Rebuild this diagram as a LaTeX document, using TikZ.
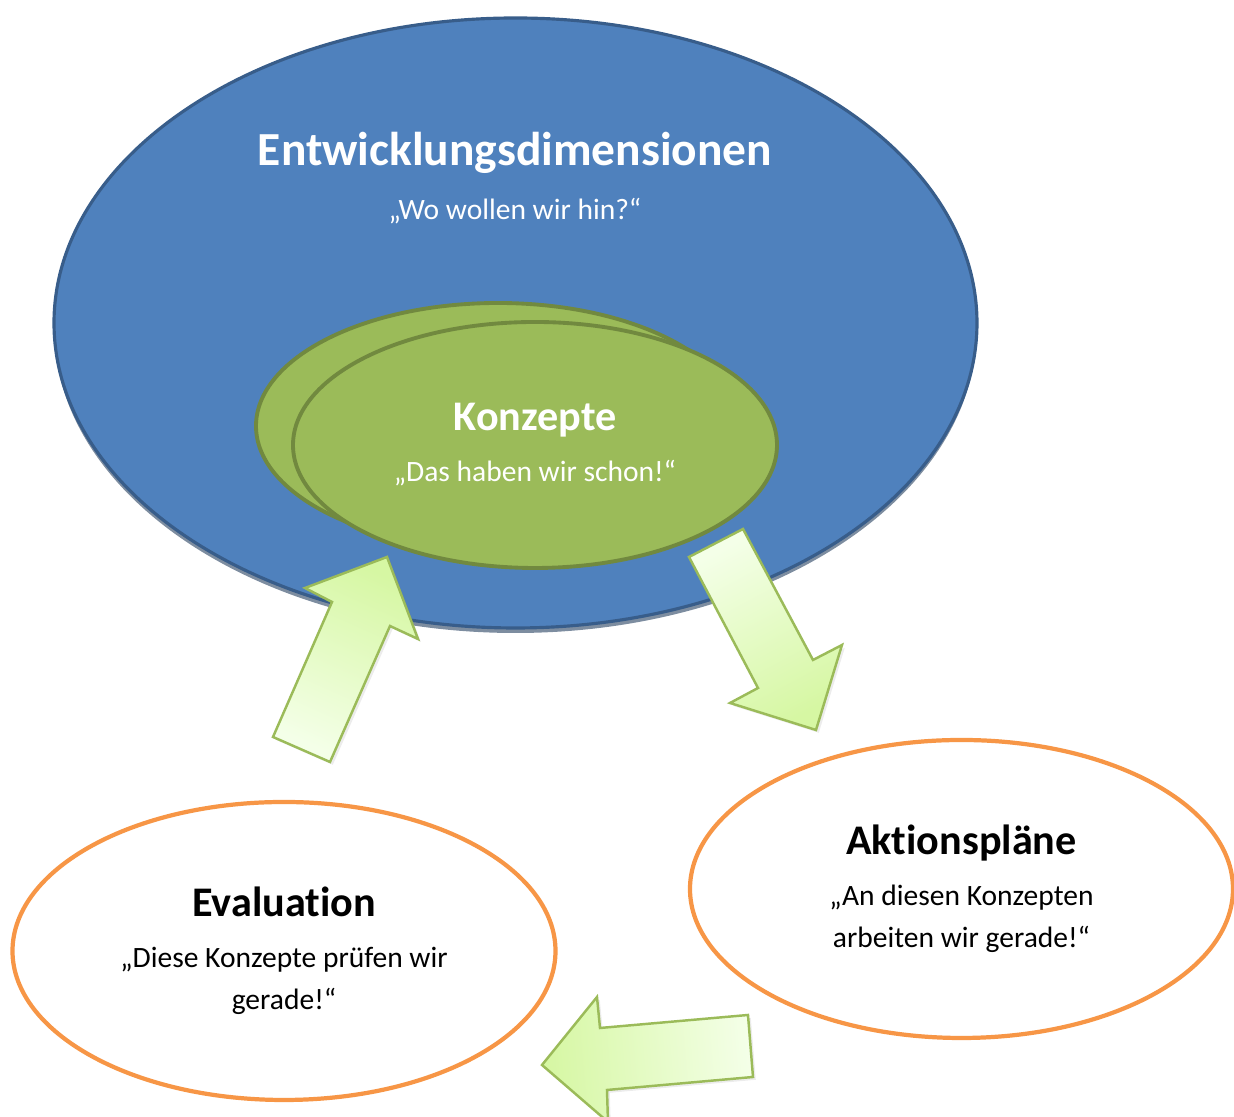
\documentclass[tikz,border=0pt]{standalone}
\usepackage{fontspec}
\setmainfont{Carlito}[Ligatures=NoCommon]
\usepackage{xcolor}
\usepackage{tikz}
\usetikzlibrary{shapes.geometric}
\usetikzlibrary{shadows}
\usetikzlibrary{positioning}
\definecolor{dimblue}{HTML}{4F81BD}
\definecolor{dimblueline}{HTML}{385D8A}
\definecolor{konzgreen}{HTML}{9BBB59}
\definecolor{konzline}{HTML}{71893F}
\definecolor{phaseline}{HTML}{F79646}
\definecolor{arrowtip}{HTML}{D6F7A3}
\definecolor{arrowtail}{HTML}{F4FFE8}
\definecolor{arrowline}{HTML}{9BBB59}
\tikzset{
  dimension/.style={
    ellipse, draw=dimblueline, line width=0.9pt, fill=dimblue,
    minimum width=9.23cm, minimum height=6.1cm, inner sep=0pt,
    drop shadow={shadow xshift=0pt, shadow yshift=-0.05cm, fill=dimblueline!70!black, opacity=0.6},
  },
  concept/.style={
    ellipse, draw=konzline, line width=1.1pt, fill=konzgreen,
    minimum width=4.84cm, minimum height=2.46cm, inner sep=0pt,
    text=white, align=center, font=\fontsize{8.4pt}{12pt}\selectfont,
  },
  phase/.style={
    ellipse, draw=phaseline, line width=1.2pt, fill=white,
    minimum width=5.43cm, minimum height=2.98cm, inner sep=0pt,
    align=center, font=\fontsize{8.4pt}{12pt}\selectfont,
  },
  blockarrow/.style={
    draw=arrowline, line width=0.7pt, line join=miter,
    bottom color=arrowtail, top color=arrowtip,
    drop shadow={shadow xshift=0.8pt, shadow yshift=-0.8pt, opacity=0.15},
  },
}

\begin{document}
\begin{tikzpicture}

  \useasboundingbox (0,0) rectangle (12.34,11.17);

  % Define nodes
  \node[dimension] (dim) at (5.155,7.94) {};
  \node[text=white, font=\fontsize{13.5pt}{16pt}\selectfont\bfseries] (dim_title) at (5.15,9.64) {Entwicklungsdimensionen};
  \node[text=white, font=\fontsize{8.4pt}{12pt}\selectfont, below=0cm of dim_title] (dim_text) {„Wo wollen wir hin?“};

  \node[concept] (konz_back) at (4.98,6.91) {};
  \node[concept] (konz) at (5.35,6.72) {{\fontsize{12pt}{14pt}\selectfont\bfseries Konzepte}\\[2.5pt] „Das haben wir schon!“};

  \node[phase] (aktion) at (9.615,2.28) {{\fontsize{12pt}{14pt}\selectfont\bfseries Aktionspläne}\\[2.5pt] „An diesen Konzepten\\ arbeiten wir gerade!“};
  \node[phase] (eval) at (2.84,1.66) {{\fontsize{12pt}{14pt}\selectfont\bfseries Evaluation}\\[2.5pt] „Diese Konzepte prüfen wir\\ gerade!“};

  % Block arrows
  \filldraw[blockarrow, shading angle=-24]
    (3.87,5.60) -- (3.05,5.29) -- (3.32,5.15) -- (2.73,3.80) -- (3.30,3.55) -- (3.90,4.91) -- (4.18,4.78) -- cycle;
  \filldraw[blockarrow, shading angle=208]
    (6.89,5.60) -- (7.43,5.88) -- (8.13,4.57) -- (8.42,4.72) -- (8.16,3.87) -- (7.30,4.14) -- (7.58,4.29) -- cycle;
  \filldraw[blockarrow, shading angle=95]
    (5.42,0.52) -- (5.97,1.20) -- (6.00,0.89) -- (7.48,1.02) -- (7.53,0.40) -- (6.07,0.27) -- (6.08,-0.05) -- cycle;

\end{tikzpicture}
\end{document}
